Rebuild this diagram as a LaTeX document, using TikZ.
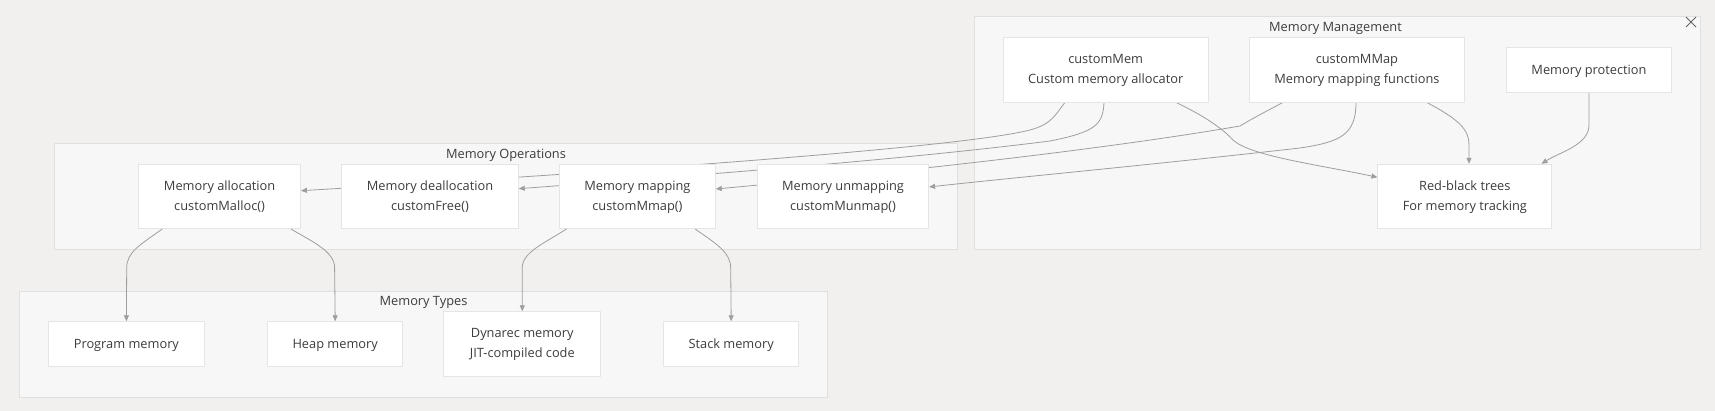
\documentclass[tikz,border=0pt]{standalone}
\usepackage{fontspec}
\setmainfont{Open Sans}
\usetikzlibrary{arrows.meta}
\definecolor{bgc}{RGB}{241,240,239}
\definecolor{clfill}{RGB}{247,247,247}
\definecolor{cldraw}{RGB}{224,224,224}
\definecolor{nddraw}{RGB}{229,229,229}
\definecolor{edgec}{RGB}{158,158,158}
\definecolor{txtc}{RGB}{60,60,60}
\pgfdeclarelayer{bg}
\pgfdeclarelayer{edges}
\pgfsetlayers{bg,edges,main}
\tikzset{
  box/.style={draw=nddraw, line width=0.8pt, fill=white, inner sep=0pt, align=center,
    text=txtc, font=\fontsize{12.8}{20}\selectfont},
  oneline/.style={box, text height=12.4pt},
  twoline/.style={box, text height=31pt},
  cluster/.style={draw=cldraw, line width=0.8pt, fill=clfill},
  cltitle/.style={text=txtc, font=\fontsize{12.8}{14}\selectfont, inner sep=0pt},
  edge/.style={draw=edgec, line width=0.8pt, -{Triangle[length=6pt,width=5pt]}},
}
\begin{document}
\begin{tikzpicture}[x=1pt,y=-1pt]
\begin{pgfonlayer}{bg}
\fill[bgc] (0,0) rectangle (1715,411);
\useasboundingbox (0,0) rectangle (1715,411);
\draw[cluster] (54.8,143.5) rectangle (957.6,249);
\draw[cluster] (19.7,291) rectangle (827.7,397.3);
\draw[cluster] (974.6,16.3) rectangle (1700.5,249);
\end{pgfonlayer}
\node[cltitle] (tops) at (506,155) {Memory Operations};
\node[cltitle] (ttypes) at (423.5,302.2) {Memory Types};
\node[cltitle] (tmgmt) at (1335.5,28.2) {Memory Management};
\draw[draw=txtc!80, line width=0.8pt] (1686,17) -- (1696,27) (1686,27) -- (1696,17);
% Memory Operations
\node[twoline, minimum width=161.8pt, minimum height=64.2pt] (alloc) at (219.6,196.4) {Memory allocation\\customMalloc()};
\node[twoline, minimum width=176.6pt, minimum height=64.2pt] (dealloc) at (430,196.4) {Memory deallocation\\customFree()};
\node[twoline, minimum width=155.9pt, minimum height=64.2pt] (mapping) at (637.4,196.4) {Memory mapping\\customMmap()};
\node[twoline, minimum width=171.4pt, minimum height=64.2pt] (unmapping) at (843,196.4) {Memory unmapping\\customMunmap()};
% Memory Types
\node[oneline, minimum width=155.2pt, minimum height=44.6pt] (program) at (126.4,344) {Program memory};
\node[oneline, minimum width=134.9pt, minimum height=44.6pt] (heap) at (335.2,344) {Heap memory};
\node[twoline, minimum width=156.9pt, minimum height=64.6pt] (dynarec) at (522.3,344) {Dynarec memory\\JIT-compiled code};
\node[oneline, minimum width=135pt, minimum height=44.6pt] (stack) at (731.2,344) {Stack memory};
% Memory Management
\node[twoline, minimum width=205.2pt, minimum height=64.7pt] (customMem) at (1105.7,69.7) {customMem\\Custom memory allocator};
\node[twoline, minimum width=215pt, minimum height=64.7pt] (customMMap) at (1356.9,69.7) {customMMap\\Memory mapping functions};
\node[oneline, minimum width=165.7pt, minimum height=44.7pt] (protection) at (1589,69.7) {Memory protection};
\node[twoline, minimum width=173.9pt, minimum height=64.4pt] (redblack) at (1464.8,196.4) {Red-black trees\\For memory tracking};
\begin{pgfonlayer}{edges}
\draw[edge] (customMem.south -| 1065,0) .. controls (1055,115) and (1052,124) .. (1030,130)
  .. controls (960,148) and (600,173) .. (alloc.east |- 0,190.7);
\draw[edge] (customMem.south -| 1104,0) .. controls (1103,125) and (1095,132) .. (1050,141)
  .. controls (900,160) and (700,175) .. (dealloc.east |- 0,188.7);
\draw[edge] (customMMap.south -| 1283,0) .. controls (1265,112) and (1255,117) .. (1240,126)
  .. controls (1100,150) and (900,172) .. (mapping.east |- 0,189);
\draw[edge] (customMMap.south -| 1356,0) .. controls (1356,135) and (1340,142) .. (1300,148)
  .. controls (1150,165) and (1000,179) .. (unmapping.east |- 0,187);
\draw[edge] (customMem.south -| 1176,0) .. controls (1200,114) and (1220,126) .. (1233,140)
  .. controls (1250,156) and (1320,165) .. (redblack.west |- 0,177.3);
\draw[edge] (customMMap.south -| 1426.7,0) .. controls (1460,120) and (1469,130) .. (1469,145) -- (redblack.north -| 1469,0);
\draw[edge] (protection.south -| 1589,0) -- (1589,125) .. controls (1589,145) and (1560,152) .. (redblack.north -| 1541.5,0);
\draw[edge] (alloc.south -| 162.4,0) .. controls (140,245) and (126.7,252) .. (126.7,268) -- (program.north);
\draw[edge] (alloc.south -| 290.7,0) .. controls (315,243) and (334.6,252) .. (334.6,268) -- (heap.north);
\draw[edge] (mapping.south -| 566.6,0) .. controls (545,243) and (522.2,252) .. (522.2,268) -- (dynarec.north);
\draw[edge] (mapping.south -| 695,0) .. controls (715,243) and (730.7,252) .. (730.7,268) -- (stack.north);
\end{pgfonlayer}
\end{tikzpicture}
\end{document}
